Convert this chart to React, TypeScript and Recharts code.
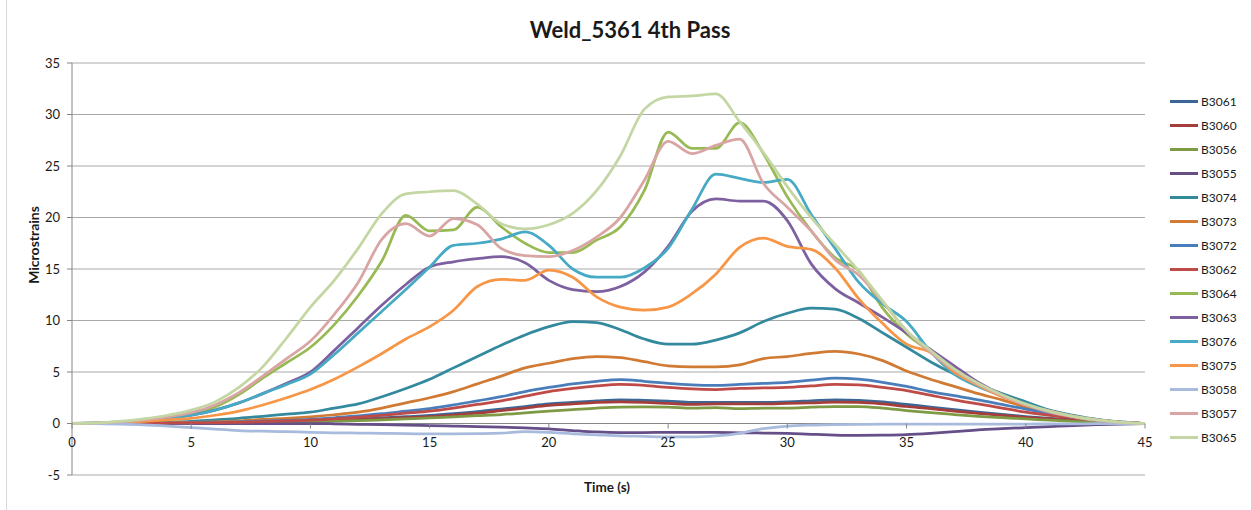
import { LineChart, Line, XAxis, YAxis, CartesianGrid, ReferenceLine } from 'recharts'

// time axis, seconds
const TIME = [
  0, 1, 2, 3, 4, 5, 6, 7, 8, 9, 10, 11, 12, 13, 14, 15, 16, 17, 18, 19, 20, 21, 22,
  23, 24, 25, 26, 27, 28, 29, 30, 31, 32, 33, 34, 35, 36, 37, 38, 39, 40, 41, 42, 43, 44, 45,
]

const X_TICKS = [0, 5, 10, 15, 20, 25, 30, 35, 40, 45]
const Y_TICKS = [-5, 0, 5, 10, 15, 20, 25, 30, 35]

// gauge readings (microstrains), one value per second
const B3061 = [
  0, 0, 0, 0.01, 0.02, 0.04, 0.06, 0.09, 0.13, 0.18,
  0.24, 0.32, 0.42, 0.54, 0.66, 0.78, 0.95, 1.15, 1.4, 1.65,
  1.9, 2.05, 2.2, 2.3, 2.25, 2.17, 2.05, 2.05, 2.05, 2.05,
  2.1, 2.2, 2.3, 2.25, 2.1, 1.85, 1.6, 1.35, 1.1, 0.88,
  0.68, 0.5, 0.35, 0.2, 0.08, 0,
]
const B3060 = [
  0, 0, 0, 0.01, 0.02, 0.03, 0.05, 0.08, 0.11, 0.15,
  0.2, 0.27, 0.36, 0.46, 0.56, 0.66, 0.82, 1.0, 1.25, 1.5,
  1.75, 1.9, 2.05, 2.1, 2.05, 1.95, 1.85, 1.9, 1.9, 1.9,
  1.95, 2.0, 2.07, 2.05, 1.9, 1.65, 1.45, 1.2, 0.98, 0.78,
  0.6, 0.45, 0.3, 0.17, 0.06, 0,
]
const B3056 = [
  0, 0, 0, 0.01, 0.02, 0.03, 0.05, 0.07, 0.1, 0.13,
  0.17, 0.22, 0.28, 0.36, 0.45, 0.55, 0.65, 0.76, 0.87, 1.03,
  1.2, 1.35, 1.5, 1.6, 1.62, 1.6, 1.5, 1.55, 1.45, 1.5,
  1.5, 1.58, 1.65, 1.65, 1.5, 1.26, 1.05, 0.87, 0.7, 0.57,
  0.45, 0.32, 0.2, 0.1, 0.04, 0,
]
const B3055 = [
  0, 0, 0, 0, 0, 0, 0, 0, 0, 0,
  0, -0.03, -0.08, -0.12, -0.16, -0.2, -0.25, -0.3, -0.36, -0.43,
  -0.52, -0.68, -0.82, -0.88, -0.88, -0.86, -0.86, -0.87, -0.9, -0.93,
  -0.97, -1.05, -1.12, -1.15, -1.13, -1.07, -0.95, -0.8, -0.62, -0.5,
  -0.4, -0.3, -0.2, -0.12, -0.05, 0,
]
const B3074 = [
  0, 0.01, 0.03, 0.06, 0.12, 0.2, 0.35, 0.5, 0.7, 0.9,
  1.1, 1.5, 1.9, 2.6, 3.4, 4.3, 5.4, 6.5, 7.6, 8.6,
  9.4, 9.9, 9.8, 9.1, 8.2, 7.7, 7.7, 8.1, 8.8, 9.9,
  10.7, 11.2, 11.1, 10.2, 8.8, 7.4, 6.0, 4.8, 3.8, 2.9,
  2.1, 1.3, 0.8, 0.4, 0.15, 0,
]
const B3073 = [
  0, 0.01, 0.02, 0.04, 0.07, 0.1, 0.15, 0.25, 0.4, 0.5,
  0.65, 0.85, 1.1, 1.5, 2.0, 2.5, 3.1, 3.85, 4.6, 5.4,
  5.85, 6.3, 6.5, 6.4, 6.0, 5.6, 5.5, 5.5, 5.7, 6.3,
  6.5, 6.8, 7.0, 6.75, 6.1, 5.1, 4.3, 3.6, 2.9, 2.3,
  1.6, 1.0, 0.6, 0.3, 0.1, 0,
]
const B3072 = [
  0, 0, 0.01, 0.02, 0.04, 0.06, 0.1, 0.15, 0.22, 0.3,
  0.4, 0.55, 0.75, 0.95, 1.2, 1.45, 1.8, 2.2, 2.6, 3.1,
  3.5, 3.85, 4.1, 4.25, 4.1, 3.9, 3.75, 3.7, 3.8, 3.9,
  4.0, 4.2, 4.4, 4.3, 4.0, 3.6, 3.1, 2.7, 2.3, 1.85,
  1.4, 1.0, 0.6, 0.3, 0.1, 0,
]
const B3062 = [
  0, 0, 0.01, 0.02, 0.03, 0.05, 0.08, 0.12, 0.18, 0.25,
  0.33, 0.45, 0.62, 0.8, 1.0, 1.2, 1.5, 1.85, 2.2, 2.65,
  3.1, 3.4, 3.65, 3.8, 3.7, 3.5, 3.35, 3.3, 3.4, 3.45,
  3.5, 3.65, 3.8, 3.75, 3.5, 3.2, 2.75, 2.3, 1.9, 1.5,
  1.1, 0.8, 0.55, 0.3, 0.1, 0,
]
const B3064 = [
  0, 0.05, 0.15, 0.3, 0.55, 0.9, 1.6, 2.8, 4.4, 5.9,
  7.4, 9.6, 12.4, 15.8, 20.2, 18.7, 18.8, 21.0, 19.1, 17.5,
  16.6, 16.6, 17.8, 19.1, 22.6, 28.3, 26.7, 26.7, 29.2, 26.2,
  22.0, 18.7, 16.1, 14.8, 11.2, 8.7, 7.0, 5.4, 3.9, 2.8,
  1.9, 1.2, 0.7, 0.35, 0.12, 0,
]
const B3063 = [
  0, 0.03, 0.1, 0.25, 0.5, 0.8, 1.3, 2.0, 2.9, 3.9,
  5.0, 7.1, 9.3, 11.5, 13.5, 15.2, 15.7, 16.0, 16.2, 15.6,
  13.9, 13.0, 12.8, 13.3, 14.7, 17.2, 20.6, 21.8, 21.6, 21.6,
  19.7, 15.5, 13.1, 11.7, 10.3, 8.8, 7.2, 5.6, 4.0, 2.8,
  1.9, 1.2, 0.7, 0.35, 0.12, 0,
]
const B3076 = [
  0, 0.03, 0.1, 0.25, 0.5, 0.8, 1.3, 2.0, 2.9, 3.8,
  4.8, 6.7, 8.8, 10.9, 13.0, 15.2, 17.3, 17.5, 17.9, 18.6,
  17.3, 15.0, 14.2, 14.2, 15.1, 17.0, 20.8, 24.2, 23.8, 23.4,
  23.7, 20.3, 17.0, 13.7, 11.6, 9.9, 7.0, 4.8, 3.6, 2.7,
  1.9, 1.2, 0.7, 0.35, 0.12, 0,
]
const B3075 = [
  0, 0.02, 0.08, 0.2, 0.35, 0.5, 0.8, 1.2, 1.8, 2.5,
  3.3, 4.3, 5.5, 6.8, 8.2, 9.4, 11.0, 13.3, 14.0, 13.9,
  14.9, 14.2, 12.3, 11.3, 11.0, 11.3, 12.6, 14.5, 17.1, 18.0,
  17.2, 16.9, 15.1, 12.1, 9.7, 7.7, 6.9, 5.0, 3.7, 2.6,
  1.8, 1.2, 0.7, 0.35, 0.12, 0,
]
const B3058 = [
  0, -0.02, -0.06, -0.13, -0.25, -0.4, -0.55, -0.68, -0.75, -0.8,
  -0.85, -0.9, -0.93, -0.96, -0.99, -1.0, -1.0, -0.98, -0.94, -0.8,
  -0.87, -1.0, -1.1, -1.2, -1.25, -1.3, -1.3, -1.2, -0.95, -0.5,
  -0.25, -0.15, -0.1, -0.08, -0.06, -0.05, -0.05, -0.05, -0.05, -0.05,
  -0.05, -0.04, -0.03, -0.02, -0.01, 0,
]
const B3057 = [
  0, 0.05, 0.15, 0.35, 0.65, 1.05, 1.8, 3.0, 4.6, 6.3,
  8.0, 10.6, 13.7, 17.9, 19.4, 18.2, 19.9, 19.3, 17.0, 16.3,
  16.2, 16.8, 18.1, 20.0, 23.6, 27.4, 26.2, 27.0, 27.6, 23.3,
  21.0, 18.7, 15.9, 14.4, 11.8, 9.0, 6.9, 5.2, 3.8, 2.7,
  1.8, 1.1, 0.65, 0.3, 0.1, 0,
]
const B3065 = [
  0, 0.05, 0.2, 0.45, 0.8, 1.3, 2.1, 3.5, 5.5, 8.3,
  11.3, 13.9, 17.0, 20.4, 22.3, 22.5, 22.6, 21.3, 19.4, 18.9,
  19.3, 20.4, 22.6, 26.0, 30.5, 31.7, 31.8, 32.0, 29.3, 26.3,
  23.0, 20.0, 17.4, 14.8, 11.9, 9.0, 7.1, 5.3, 3.9, 2.8,
  1.9, 1.2, 0.7, 0.35, 0.12, 0,
]

const SERIES = [
  { name: 'B3061', values: B3061, color: '#3B6796' },
  { name: 'B3060', values: B3060, color: '#A53E3B' },
  { name: 'B3056', values: B3056, color: '#7E9A44' },
  { name: 'B3055', values: B3055, color: '#664E89' },
  { name: 'B3074', values: B3074, color: '#33899E' },
  { name: 'B3073', values: B3073, color: '#D07A34' },
  { name: 'B3072', values: B3072, color: '#4A7EBB' },
  { name: 'B3062', values: B3062, color: '#BE4B48' },
  { name: 'B3064', values: B3064, color: '#98B954' },
  { name: 'B3063', values: B3063, color: '#7D60A0' },
  { name: 'B3076', values: B3076, color: '#46AAC5' },
  { name: 'B3075', values: B3075, color: '#F79646' },
  { name: 'B3058', values: B3058, color: '#A8BBDD' },
  { name: 'B3057', values: B3057, color: '#D9A5A4' },
  { name: 'B3065', values: B3065, color: '#C4D6A3' },
]

const data = TIME.map((t, i) => {
  const row: Record<string, number> = { t }
  SERIES.forEach((s) => {
    row[s.name] = s.values[i]
  })
  return row
})

const W = 1251
const H = 510
const MARGIN = { top: 63, right: 106, bottom: 5, left: 0 }
const Y_AXIS_W = 72
const X_AXIS_H = 30
const PLOT_H = H - MARGIN.top - MARGIN.bottom - X_AXIS_H
// the time axis crosses at y = 0, not at the bottom of the plot
const ZERO_Y = MARGIN.top + (PLOT_H * 35) / 40

const FONT = 'Lato, "Noto Sans", sans-serif'
const TEXT = '#1a1a1a'
const AXIS = '#868686'

const TimeTick = ({ x, payload }: any) => (
  <g>
    <line x1={x} x2={x} y1={ZERO_Y} y2={ZERO_Y + 5} stroke={AXIS} />
    <text x={x} y={ZERO_Y + 23} textAnchor="middle" fill={TEXT} fontSize={13} fontFamily={FONT}>
      {payload.value}
    </text>
  </g>
)

export default function App() {
  return (
    <div style={{ position: 'absolute', left: 0, top: 0, width: W, height: H, background: '#fff', fontFamily: FONT }}>
      <div style={{ position: 'absolute', left: 6, top: 0, width: 1, height: H, background: '#d9d9d9' }} />
      <div
        style={{
          position: 'absolute', left: 630, top: 17, transform: 'translateX(-50%)',
          fontSize: 22, fontWeight: 700, color: TEXT, whiteSpace: 'nowrap', lineHeight: '26px',
        }}
      >
        Weld_5361 4th Pass
      </div>
      <div
        style={{
          position: 'absolute', left: 33, top: 245, transform: 'translate(-50%, -50%) rotate(-90deg)',
          fontSize: 14, fontWeight: 700, color: TEXT, whiteSpace: 'nowrap',
        }}
      >
        Microstrains
      </div>
      <div
        style={{
          position: 'absolute', left: 607, top: 487, transform: 'translate(-50%, -50%)',
          fontSize: 13.5, fontWeight: 700, color: TEXT, whiteSpace: 'nowrap',
        }}
      >
        Time (s)
      </div>

      <LineChart width={W} height={H} data={data} margin={MARGIN}>
        <CartesianGrid vertical={false} stroke="#a9a9a9" />
        <XAxis
          dataKey="t"
          type="number"
          domain={[0, 45]}
          ticks={X_TICKS}
          interval={0}
          height={X_AXIS_H}
          axisLine={false}
          tickLine={false}
          tick={<TimeTick />}
        />
        <YAxis
          type="number"
          domain={[-5, 35]}
          ticks={Y_TICKS}
          interval={0}
          width={Y_AXIS_W}
          stroke={AXIS}
          tickSize={5}
          tickMargin={7}
          tick={{ fill: TEXT, fontSize: 13, fontFamily: FONT }}
        />
        <ReferenceLine y={0} stroke={AXIS} />
        {SERIES.map((s) => (
          <Line
            key={s.name}
            type="monotone"
            dataKey={s.name}
            stroke={s.color}
            strokeWidth={2.75}
            dot={false}
            activeDot={false}
            isAnimationActive={false}
          />
        ))}
      </LineChart>

      {SERIES.map((s, i) => (
        <div
          key={s.name}
          style={{ position: 'absolute', left: 1170, top: 101 + i * 24.07 - 8, height: 16, display: 'flex', alignItems: 'center' }}
        >
          <div style={{ width: 28, height: 3, background: s.color, marginRight: 3 }} />
          <span style={{ fontSize: 12, color: TEXT }}>{s.name}</span>
        </div>
      ))}
    </div>
  )
}
